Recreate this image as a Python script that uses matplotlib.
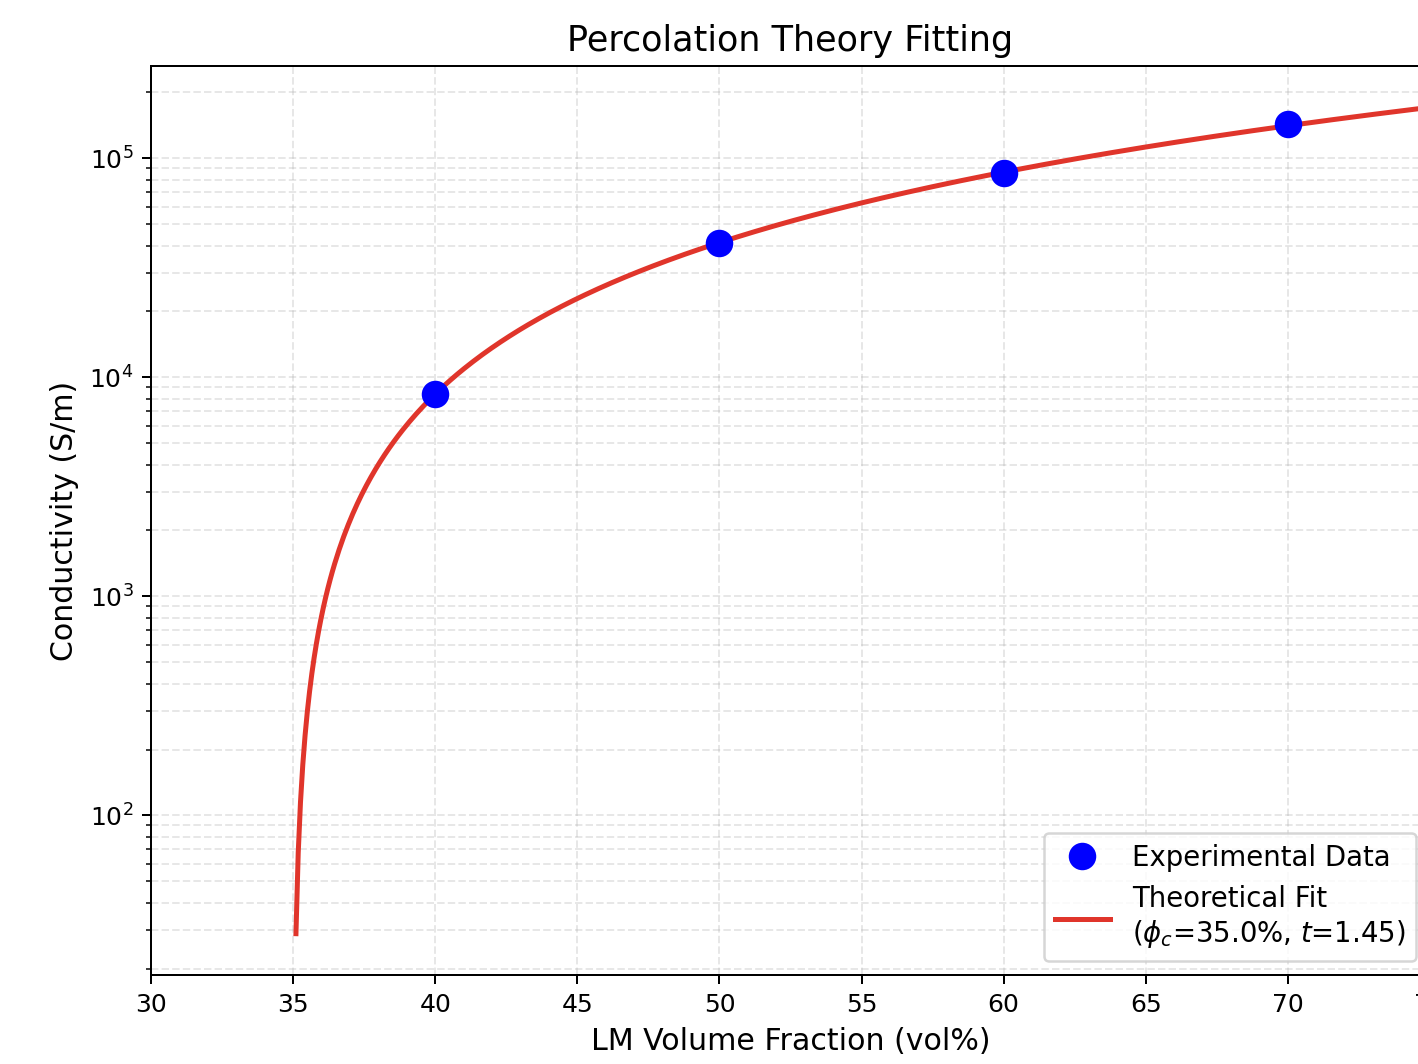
import numpy as np
import matplotlib
matplotlib.use("Agg")
import matplotlib.pyplot as plt

# Data
phi_exp = [40, 50, 60, 70]                  # LM volume fraction (vol%)
sigma_exp = [8360, 41300, 85500, 143000]    # conductivity (S/m)
phi_c = 35.0
t_exp = 1.45
phi_fit_start = 35.1
phi_fit_end = 75.0
x_ticks = [30, 35, 40, 45, 50, 55, 60, 65, 70, 75]

# prefactor fitted from experimental data (log least squares with fixed phi_c, t)
sigma0 = np.exp(np.mean(np.log(sigma_exp) - t_exp * np.log(np.array(phi_exp) - phi_c)))
phi_fit = np.linspace(phi_fit_start, phi_fit_end, 500)
sigma_fit = sigma0 * (phi_fit - phi_c) ** t_exp

dpi = 180
fig = plt.figure(figsize=(1418 / dpi, 1064 / dpi), dpi=dpi)
ax = fig.add_axes([151 / 1418, 1 - 975 / 1064, (1430 - 151) / 1418, (975 - 66) / 1064])

ax.plot(phi_exp, sigma_exp, 'o', color='blue', markersize=10, label='Experimental Data', zorder=3)
ax.plot(phi_fit, sigma_fit, '-', color='#e0352b', linewidth=2,
        label=f'Theoretical Fit\n($\\phi_c$={phi_c:.1f}%, $t$={t_exp:.2f})', zorder=2)

ax.set_yscale('log')
ax.set_xlim(30, 75)
ax.set_xticks(x_ticks)
ax.set_xlabel('LM Volume Fraction (vol%)', fontsize=12)
ax.set_ylabel('Conductivity (S/m)', fontsize=12)
ax.set_title('Percolation Theory Fitting', fontsize=14)
ax.grid(True, which='both', linestyle='--', alpha=0.3)
ax.legend(loc='lower right', fontsize=11)

fig.savefig('out.png', dpi=dpi)
